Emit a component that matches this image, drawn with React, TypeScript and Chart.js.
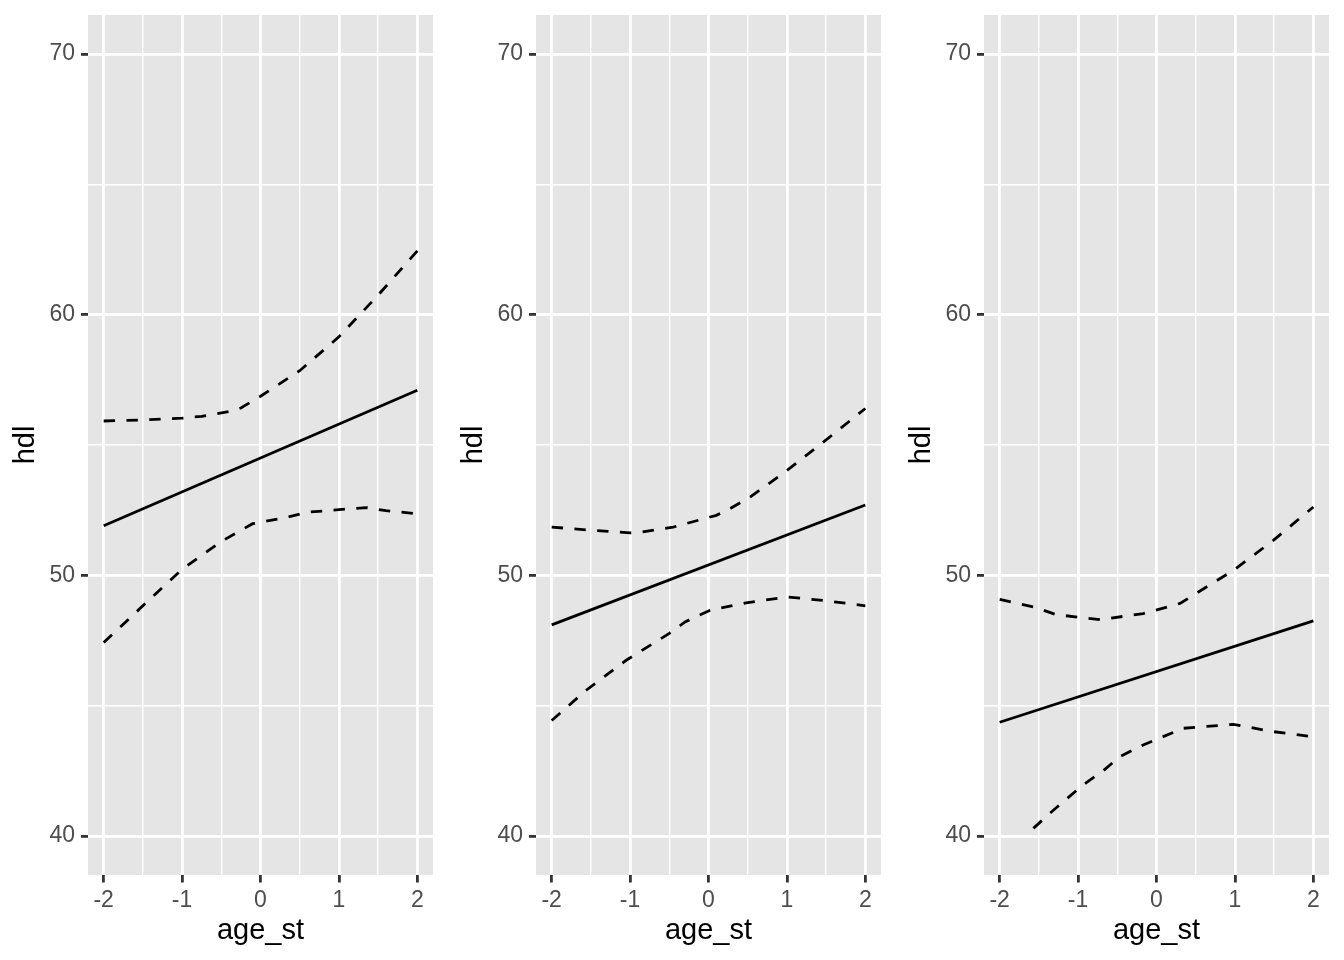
import React, { useEffect, useRef } from "react";
import { Chart, registerables } from "chart.js";

Chart.register(...registerables);

// ---- axes ----
const yTickValues = [40, 45, 50, 55, 60, 65, 70];
const yTickLabels = ["40", "", "50", "", "60", "", "70"];
const xTickValues = [-2, -1.5, -1, -0.5, 0, 0.5, 1, 1.5, 2];
const xTickLabels = ["-2", "", "-1", "", "0", "", "1", "", "2"];
const yRange = [38.5, 71.5];
const xRange = [-2.2, 2.2];
const xTitle = "age_st";
const yTitle = "hdl";

// ---- panel 1 ----
const p1FitX = [-2, 2];
const p1FitY = [51.9, 57.1];
const p1UpperX = [-2, -1.5, -1, -0.75, -0.4, -0.25, 0, 0.5, 1, 1.5, 2];
const p1UpperY = [55.92, 55.96, 56.03, 56.1, 56.28, 56.42, 56.87, 57.85, 59.15, 60.75, 62.45];
const p1LowerX = [-2, -1.5, -1, -0.5, -0.1, 0.3, 0.6, 1, 1.35, 1.6, 2];
const p1LowerY = [47.42, 48.83, 50.23, 51.3, 51.98, 52.2, 52.42, 52.52, 52.6, 52.48, 52.36];

// ---- panel 2 ----
const p2FitX = [-2, 2];
const p2FitY = [48.1, 52.7];
const p2UpperX = [-2, -1.5, -1, -0.85, -0.45, 0.1, 0.27, 0.53, 1, 1.46, 2];
const p2UpperY = [51.85, 51.73, 51.63, 51.66, 51.85, 52.3, 52.55, 53.0, 54.02, 55.1, 56.4];
const p2LowerX = [-2, -1.56, -1.05, -0.5, -0.3, 0.02, 0.48, 1.0, 1.51, 2];
const p2LowerY = [44.43, 45.59, 46.74, 47.77, 48.21, 48.66, 48.94, 49.17, 49.02, 48.83];

// ---- panel 3 ----
const p3FitX = [-2, 2];
const p3FitY = [44.36, 48.25];
const p3UpperX = [-2, -1.57, -1.28, -0.72, -0.17, 0.3, 0.98, 1.49, 2];
const p3UpperY = [49.08, 48.79, 48.49, 48.3, 48.53, 48.92, 50.19, 51.34, 52.62];
const p3LowerX = [-1.57, -1.36, -0.94, -0.68, -0.47, -0.17, 0.34, 0.98, 1.49, 1.94, 2];
const p3LowerY = [40.29, 40.87, 41.95, 42.5, 43.04, 43.49, 44.13, 44.28, 44.0, 43.83, 43.8];

const panels = [
  { fit: [p1FitX, p1FitY], upper: [p1UpperX, p1UpperY], lower: [p1LowerX, p1LowerY] },
  { fit: [p2FitX, p2FitY], upper: [p2UpperX, p2UpperY], lower: [p2LowerX, p2LowerY] },
  { fit: [p3FitX, p3FitY], upper: [p3UpperX, p3UpperY], lower: [p3LowerX, p3LowerY] },
];

const FONT = "'Liberation Sans', Arial, Helvetica, sans-serif";
const W = 448;
const H = 960;

const toPts = (xs: number[], ys: number[]) => xs.map((x, i) => ({ x, y: ys[i] }));

const bgPlugin = {
  id: "panelBg",
  beforeDraw(chart: any) {
    const { ctx, chartArea } = chart;
    if (!chartArea) return;
    ctx.save();
    ctx.fillStyle = "#E5E5E5";
    ctx.fillRect(chartArea.left, chartArea.top, chartArea.right - chartArea.left, chartArea.bottom - chartArea.top);
    ctx.restore();
  },
};

function Panel({ idx }: { idx: number }) {
  const ref = useRef<HTMLCanvasElement | null>(null);
  useEffect(() => {
    if (!ref.current) return;
    const p = panels[idx];
    const lineBase = {
      showLine: true,
      pointRadius: 0,
      pointHoverRadius: 0,
      borderColor: "#000000",
      backgroundColor: "#000000",
      borderWidth: 2.8,
      fill: false,
      tension: 0,
      borderCapStyle: "butt" as const,
    };
    const isMajorY = (v: number) => yTickLabels[yTickValues.indexOf(v)] !== "";
    const isMajorX = (v: number) => xTickLabels[xTickValues.indexOf(v)] !== "";
    const chart = new Chart(ref.current, {
      type: "scatter",
      data: {
        datasets: [
          { ...lineBase, data: toPts(p.upper[0], p.upper[1]), borderDash: [11.4, 11.4] },
          { ...lineBase, data: toPts(p.lower[0], p.lower[1]), borderDash: [11.4, 11.4] },
          { ...lineBase, data: toPts(p.fit[0], p.fit[1]) },
        ],
      },
      options: {
        animation: false,
        responsive: false,
        devicePixelRatio: 1,
        layout: { padding: { top: 15, right: 15, bottom: 0, left: 0 } },
        plugins: { legend: { display: false }, tooltip: { enabled: false } },
        scales: {
          x: {
            type: "linear",
            min: xRange[0],
            max: xRange[1],
            afterBuildTicks: (s: any) => {
              s.ticks = xTickValues.map((v) => ({ value: v }));
            },
            afterFit: (s: any) => {
              s.height = 85;
              s.paddingLeft = 0;
              s.paddingRight = 0;
            },
            border: { display: false },
            grid: {
              color: "#FFFFFF",
              lineWidth: (c: any) => (isMajorX(c.tick?.value) ? 2.8 : 1.4),
              drawTicks: true,
              tickLength: 7.5,
              tickWidth: 2.8,
              tickColor: (c: any) => (isMajorX(c.tick?.value) ? "#333333" : "rgba(0,0,0,0)"),
            },
            ticks: {
              autoSkip: false,
              maxRotation: 0,
              padding: 4,
              color: "#4D4D4D",
              font: { family: FONT, size: 23 },
              callback: (v: any) => xTickLabels[xTickValues.indexOf(Number(v))] ?? "",
            },
            title: {
              display: true,
              text: xTitle,
              color: "#000000",
              font: { family: FONT, size: 29, lineHeight: 1.2 },
              padding: { top: 0, bottom: 12 },
            },
          },
          y: {
            type: "linear",
            min: yRange[0],
            max: yRange[1],
            afterBuildTicks: (s: any) => {
              s.ticks = yTickValues.map((v) => ({ value: v }));
            },
            afterFit: (s: any) => {
              s.width = 88;
              s.paddingTop = 0;
              s.paddingBottom = 0;
            },
            border: { display: false },
            grid: {
              color: "#FFFFFF",
              lineWidth: (c: any) => (isMajorY(c.tick?.value) ? 2.8 : 1.4),
              drawTicks: true,
              tickLength: 7,
              tickWidth: 2.8,
              tickColor: (c: any) => (isMajorY(c.tick?.value) ? "#333333" : "rgba(0,0,0,0)"),
            },
            ticks: {
              autoSkip: false,
              padding: 6,
              color: "#4D4D4D",
              font: { family: FONT, size: 23 },
              callback: (v: any) => yTickLabels[yTickValues.indexOf(Number(v))] ?? "",
            },
            title: {
              display: true,
              text: yTitle,
              color: "#000000",
              font: { family: FONT, size: 29, lineHeight: 1.2 },
              padding: { top: 9, bottom: 0 },
            },
          },
        },
      },
      plugins: [bgPlugin],
    } as any);
    return () => chart.destroy();
  }, [idx]);
  return (
    <div style={{ width: W, height: H, position: "relative" }}>
      <canvas ref={ref} width={W} height={H} style={{ width: W, height: H, display: "block" }} />
    </div>
  );
}

export default function App() {
  return (
    <div
      style={{
        position: "absolute",
        left: 0,
        top: 0,
        width: 1344,
        height: 960,
        display: "flex",
        background: "#FFFFFF",
      }}
    >
      {panels.map((_, i) => (
        <Panel key={i} idx={i} />
      ))}
    </div>
  );
}
